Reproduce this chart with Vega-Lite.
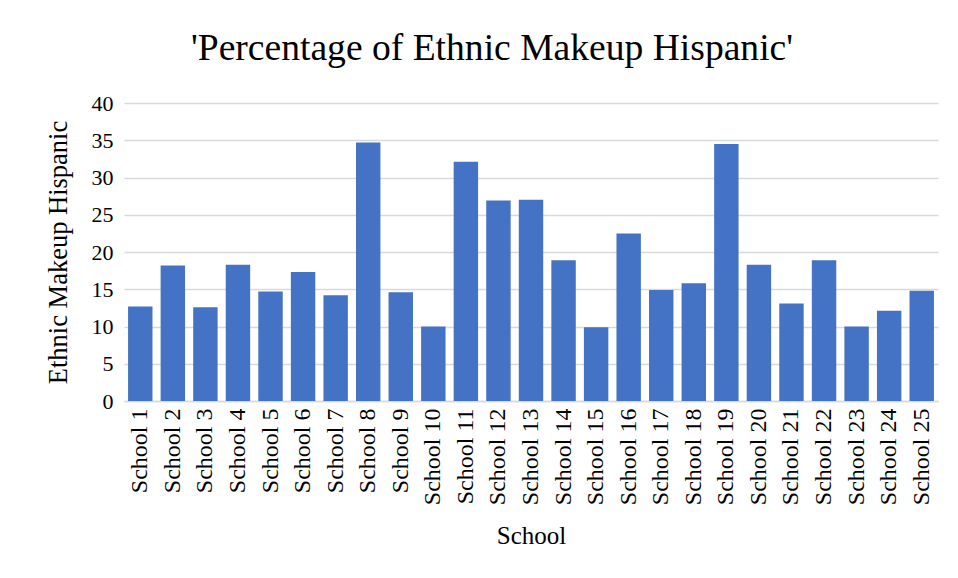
{
  "$schema": "https://vega.github.io/schema/vega-lite/v6.json",
  "autosize": "none",
  "width": 814,
  "height": 298,
  "padding": {"left": 124, "top": 103, "right": 20, "bottom": 177},
  "background": "white",
  "title": {
    "text": "'Percentage of Ethnic Makeup Hispanic'",
    "font": "Liberation Serif",
    "fontSize": 37.6,
    "fontWeight": "normal",
    "color": "#000000",
    "anchor": "middle",
    "baseline": "alphabetic",
    "offset": -6,
    "dx": -39
  },
  "data": {
    "values": [
      {"School": "School 1", "Hispanic": 12.7},
      {"School": "School 2", "Hispanic": 18.2},
      {"School": "School 3", "Hispanic": 12.6},
      {"School": "School 4", "Hispanic": 18.3},
      {"School": "School 5", "Hispanic": 14.7},
      {"School": "School 6", "Hispanic": 17.3},
      {"School": "School 7", "Hispanic": 14.2},
      {"School": "School 8", "Hispanic": 34.7},
      {"School": "School 9", "Hispanic": 14.6},
      {"School": "School 10", "Hispanic": 10.0},
      {"School": "School 11", "Hispanic": 32.1},
      {"School": "School 12", "Hispanic": 26.9},
      {"School": "School 13", "Hispanic": 27.0},
      {"School": "School 14", "Hispanic": 18.9},
      {"School": "School 15", "Hispanic": 9.9},
      {"School": "School 16", "Hispanic": 22.5},
      {"School": "School 17", "Hispanic": 14.9},
      {"School": "School 18", "Hispanic": 15.8},
      {"School": "School 19", "Hispanic": 34.5},
      {"School": "School 20", "Hispanic": 18.3},
      {"School": "School 21", "Hispanic": 13.1},
      {"School": "School 22", "Hispanic": 18.9},
      {"School": "School 23", "Hispanic": 10.0},
      {"School": "School 24", "Hispanic": 12.1},
      {"School": "School 25", "Hispanic": 14.8}
    ]
  },
  "mark": {"type": "bar", "color": "#4472C4"},
  "encoding": {
    "x": {
      "field": "School",
      "type": "nominal",
      "sort": null,
      "scale": {"paddingInner": 0.25, "paddingOuter": 0.125},
      "axis": {
        "title": "School",
        "titleFont": "Liberation Serif",
        "titleFontSize": 25,
        "titleFontWeight": "normal",
        "titleColor": "#000000",
        "titlePadding": 19,
        "labelFont": "Liberation Serif",
        "labelFontSize": 24,
        "labelColor": "#000000",
        "labelAngle": -90,
        "labelPadding": 7,
        "ticks": false,
        "domainColor": "#d9d9d9",
        "domainWidth": 1.5,
        "grid": false
      }
    },
    "y": {
      "field": "Hispanic",
      "type": "quantitative",
      "scale": {"domain": [0, 40]},
      "axis": {
        "title": "Ethnic Makeup Hispanic",
        "titleFont": "Liberation Serif",
        "titleFontSize": 26.5,
        "titleFontWeight": "normal",
        "titleColor": "#000000",
        "titlePadding": 19,
        "labelFont": "Liberation Serif",
        "labelFontSize": 22,
        "labelColor": "#000000",
        "labelPadding": 11,
        "values": [0, 5, 10, 15, 20, 25, 30, 35, 40],
        "ticks": false,
        "domain": false,
        "gridColor": "#d9d9d9",
        "gridWidth": 1.5
      }
    }
  },
  "config": {"view": {"stroke": null}}
}
